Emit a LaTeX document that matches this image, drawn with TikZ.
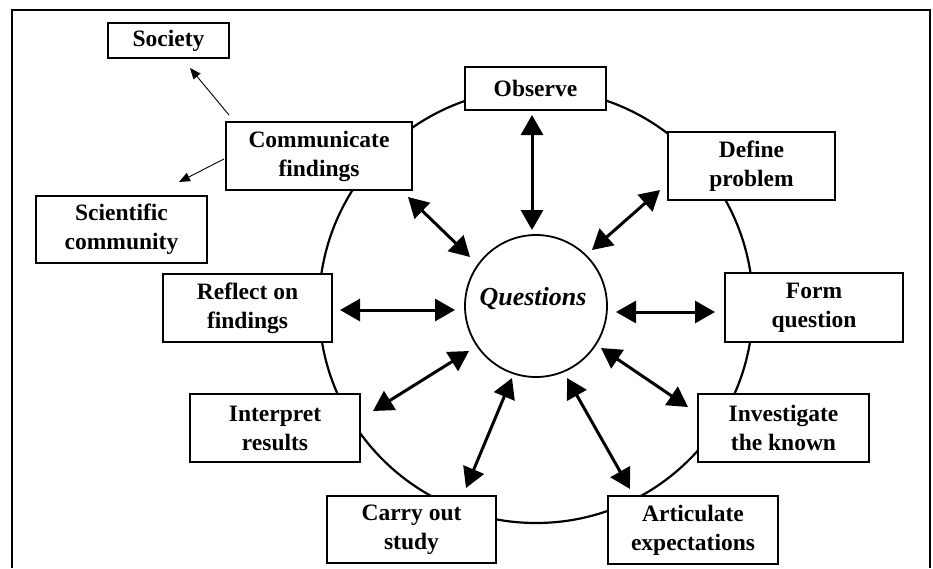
\documentclass[tikz,border=0pt]{standalone}
\usepackage{fontspec}
\setmainfont{Liberation Serif}
\usetikzlibrary{arrows.meta}
\begin{document}
\begin{tikzpicture}[x=1pt,y=-1pt,
  box/.style={draw, line width=1.8pt, fill=white, align=center, inner sep=0pt,
    font=\fontsize{23.5}{29}\selectfont\bfseries},
  bigarrow/.style={line width=3pt, {Triangle[length=20pt,width=22pt]}-{Triangle[length=20pt,width=22pt]}},
  thinarrow/.style={line width=0.9pt, -{Triangle[length=11pt,width=9pt]}}]
\useasboundingbox (0,0) rectangle (933,568);
\draw[line width=1.5pt] (12,568) -- (12,10) -- (930,10) -- (930,568);
% outer cycle
\draw[line width=2.2pt] (536,306) circle[radius=217pt];
% centre
\node[circle, draw, line width=1.8pt, minimum size=142pt, inner sep=0pt, fill=white] (q) at (536,306) {};
\node[anchor=base, font=\fontsize{26}{30}\selectfont\bfseries\itshape] (qt) at (533,305) {Questions};
% boxes
\node[box, minimum width=121pt, minimum height=35pt] (society) at (168.5,40.5) {Society};
\node[box, minimum width=186pt, minimum height=68pt] (comm) at (319,156) {Communicate\\findings};
\node[box, minimum width=171pt, minimum height=67pt] (sci) at (121.5,229.5) {Scientific\\community};
\node[box, minimum width=141pt, minimum height=43pt] (obs) at (535.5,88.5) {Observe};
\node[box, minimum width=167pt, minimum height=68pt] (def) at (751.5,166) {Define\\problem};
\node[box, minimum width=169pt, minimum height=68pt] (refl) at (247.5,308) {Reflect on\\findings};
\node[box, minimum width=178pt, minimum height=69pt] (form) at (814,307.5) {Form\\question};
\node[box, minimum width=170pt, minimum height=68pt] (interp) at (275,428) {Interpret\\results};
\node[box, minimum width=171pt, minimum height=68pt] (inv) at (783.5,428) {Investigate\\the known};
\node[box, minimum width=169pt, minimum height=67pt] (carry) at (411.5,529.5) {Carry out\\study};
\node[box, minimum width=170pt, minimum height=68pt] (art) at (693,530) {Articulate\\expectations};
% arrow end points
\coordinate (a1) at (532,115);  \coordinate (b1) at (532,230);
\coordinate (a2) at (660,190);  \coordinate (b2) at (592,250);
\coordinate (a3) at (408,197);  \coordinate (b3) at (470,257);
\coordinate (a4) at (340,310);  \coordinate (b4) at (455,310);
\coordinate (a5) at (715,312);  \coordinate (b5) at (616,312);
\coordinate (a6) at (373,411);  \coordinate (b6) at (469,351);
\coordinate (a7) at (466,488);  \coordinate (b7) at (512,378);
\coordinate (a8) at (630,489);  \coordinate (b8) at (567,378);
\coordinate (a9) at (688,407);  \coordinate (b9) at (601,348);
\foreach \i in {1,...,9} {\draw[bigarrow] (a\i) -- (b\i);}
% thin arrows
\coordinate (s1) at (229,115); \coordinate (t1) at (190,68);
\coordinate (s2) at (224,159); \coordinate (t2) at (179,182);
\draw[thinarrow] (s1) -- (t1);
\draw[thinarrow] (s2) -- (t2);
\end{tikzpicture}
\end{document}
